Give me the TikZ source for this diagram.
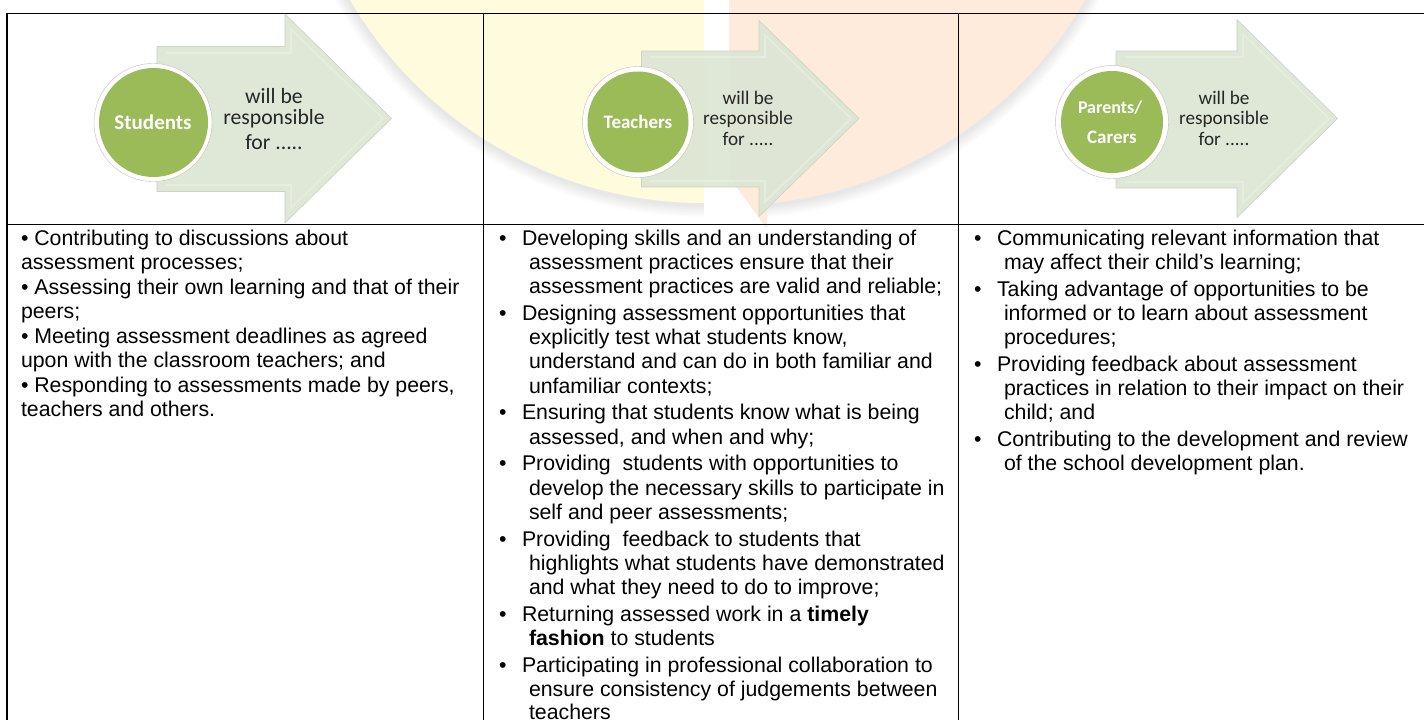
\documentclass[tikz,border=0pt]{standalone}
\usepackage{fontspec}
\setmainfont{Liberation Sans}
\newfontfamily\calibrif{Carlito}
\definecolor{wmyellow}{HTML}{FFFCDD}
\definecolor{wmorange}{HTML}{FEEBDB}
\definecolor{arrowfill}{HTML}{DDE5D4}
\definecolor{arrowedge}{HTML}{CBD3C3}
\definecolor{arrowbevel}{HTML}{E6EDDF}
\definecolor{ballgreen}{HTML}{9BBB59}
\tikzset{
  x=1pt,y=-1pt,
  rule/.style={draw=black,line width=1.4pt},
  celltext/.style={anchor=base west,inner sep=0pt,outer sep=0pt,font=\fontsize{21.3}{24.4}\selectfont,text=black},
  dot/.style={anchor=base west,inner sep=0pt,outer sep=0pt,font=\fontsize{21.3}{24.4}\selectfont,text=black},
  ballname/.style={inner sep=0pt,font=\calibrif\bfseries\fontsize{19}{23}\selectfont,text=white},
  sidetext/.style={inner sep=0pt,font=\calibrif\fontsize{19.2}{23}\selectfont,text=black!85},
  arrowbody/.style={fill=arrowfill,fill opacity=.92,draw=arrowedge,line width=.6pt,line join=miter},
  arrowinner/.style={draw=arrowbevel,line width=1.6pt,line join=miter},
  ballouter/.style={circle,fill=white,draw=black!25,line width=.4pt,inner sep=0pt},
  ballinner/.style={circle,fill=ballgreen,inner sep=0pt},
  softshadow/.style={draw=black,draw opacity=.012},
}
\begin{document}
\begin{tikzpicture}
\useasboundingbox (0,0) rectangle (1424,720);
\fill[white] (0,0) rectangle (1424,720);
% watermark
\begin{scope}
\clip (0,0) rectangle (704,720);
\foreach \w in {3,6,...,24} {\draw[softshadow,line width=\w pt] (704,-205) circle[radius=410];}
\fill[wmyellow] (704,-207) circle[radius=410];
\end{scope}
\begin{scope}
\clip (767,0) rectangle (1424,720);
\foreach \w in {3,6,...,24} {\draw[softshadow,line width=\w pt] (729,-205) circle[radius=412];}
\fill[wmorange] (729,-207) circle[radius=412];
\end{scope}
\fill[wmorange] (729,0) -- (729,177) -- (767,229) -- (767,0) -- cycle;
% rules
\draw[rule] (7,13.5) -- (1424,13.5);
\draw[rule] (7,224.5) -- (1424,224.5);
\draw[rule] (7,13) -- (7,720);
\draw[rule] (483.5,13) -- (483.5,720);
\draw[rule] (958.5,13) -- (958.5,720);
% arrow 1
\draw[arrowbody] (157,46.5) -- (285,46.5) -- (285,14) -- (391.5,118.5) -- (285,223) -- (285,191.5) -- (157,191.5) -- cycle;
\draw[arrowinner] (166,53) -- (291,53) -- (291,29) -- (383,118.5) -- (291,208) -- (291,185) -- (166,185);
\node[ballouter,minimum size=118pt] (ballA) at (153,122.5) {};
\node[ballinner,minimum size=109pt] (ballAi) at (153.5,122.5) {};
\node[ballname,font=\calibrif\bfseries\fontsize{21}{25}\selectfont] (nameA) at (153,122) {Students};
\node[sidetext,font=\calibrif\fontsize{21.7}{26}\selectfont] (sideA1) at (274,96) {will be};
\node[sidetext,font=\calibrif\fontsize{21.7}{26}\selectfont] (sideA2) at (274,119) {responsible};
\node[sidetext,font=\calibrif\fontsize{21.7}{26}\selectfont] (sideA3) at (274,142) {for .....};
% arrow 2
\draw[arrowbody] (641.5,51) -- (759,51) -- (759,20.5) -- (859,118.5) -- (759,216.5) -- (759,187) -- (641.5,187) -- cycle;
\draw[arrowinner] (650,57) -- (765,57) -- (765,35) -- (851,118.5) -- (765,202) -- (765,181) -- (650,181);
\node[ballouter,minimum size=111pt] (ballB) at (638,122) {};
\node[ballinner,minimum size=101pt] (ballBi) at (638,122) {};
\node[ballname] (nameB) at (638,122) {Teachers};
\node[sidetext] (sideB1) at (748,98) {will be};
\node[sidetext] (sideB2) at (748,119) {responsible};
\node[sidetext] (sideB3) at (748,139) {for .....};
% arrow 3
\draw[arrowbody] (1116,51) -- (1237,51) -- (1237,19.5) -- (1337.5,118.5) -- (1237,217.5) -- (1237,188) -- (1116,188) -- cycle;
\draw[arrowinner] (1125,57) -- (1243,57) -- (1243,34) -- (1329,118.5) -- (1243,203) -- (1243,182) -- (1125,182);
\node[ballouter,minimum size=113pt] (ballC) at (1112,122) {};
\node[ballinner,minimum size=102pt] (ballCi) at (1112,122) {};
\node[ballname,font=\calibrif\bfseries\fontsize{18}{22}\selectfont] (nameC1) at (1110,108) {Parents/};
\node[ballname] (nameC2) at (1112,137) {Carers};
\node[sidetext] (sideC1) at (1224,98) {will be};
\node[sidetext] (sideC2) at (1224,119) {responsible};
\node[sidetext] (sideC3) at (1224,139) {for .....};
% column 1
\node[celltext] (a1) at (21,245) {• Contributing to discussions about};
\node[celltext] (a2) at (21,269.5) {assessment processes;};
\node[celltext] (a3) at (21,294) {• Assessing their own learning and that of their};
\node[celltext] (a4) at (21,318.5) {peers;};
\node[celltext] (a5) at (21,343) {• Meeting assessment deadlines as agreed};
\node[celltext] (a6) at (21,367.5) {upon with the classroom teachers; and};
\node[celltext] (a7) at (21,392) {• Responding to assessments made by peers,};
\node[celltext] (a8) at (21,416.5) {teachers and others.};
% column 2
\node[dot] (bd1) at (499,245) {•};
\node[celltext] (b1) at (522,245) {Developing skills and an understanding of};
\node[celltext] (b2) at (529,269.3) {assessment practices ensure that their};
\node[celltext] (b3) at (529,293.6) {assessment practices are valid and reliable;};
\node[dot] (bd2) at (499,320.3) {•};
\node[celltext] (b4) at (522,320.3) {Designing assessment opportunities that};
\node[celltext] (b5) at (529,344.6) {explicitly test what students know,};
\node[celltext] (b6) at (529,368.9) {understand and can do in both familiar and};
\node[celltext] (b7) at (529,393.2) {unfamiliar contexts;};
\node[dot] (bd3) at (499,419.9) {•};
\node[celltext] (b8) at (522,419.9) {Ensuring that students know what is being};
\node[celltext] (b9) at (529,444.2) {assessed, and when and why;};
\node[dot] (bd4) at (499,470.9) {•};
\node[celltext] (b10) at (522,470.9) {Providing\ \ students with opportunities to};
\node[celltext] (b11) at (529,495.2) {develop the necessary skills to participate in};
\node[celltext] (b12) at (529,519.5) {self and peer assessments;};
\node[dot] (bd5) at (499,546.2) {•};
\node[celltext] (b13) at (522,546.2) {Providing\ \ feedback to students that};
\node[celltext] (b14) at (529,570.5) {highlights what students have demonstrated};
\node[celltext] (b15) at (529,594.8) {and what they need to do to improve;};
\node[dot] (bd6) at (499,621.5) {•};
\node[celltext] (b16) at (522,621.5) {Returning assessed work in a \textbf{timely}};
\node[celltext] (b17) at (529,645.8) {\textbf{fashion} to students};
\node[dot] (bd7) at (499,672.5) {•};
\node[celltext] (b18) at (522,672.5) {Participating in professional collaboration to};
\node[celltext] (b19) at (529,696.8) {ensure consistency of judgements between};
\node[celltext] (b20) at (529,719.5) {teachers};
% column 3
\node[dot] (cd1) at (974,245) {•};
\node[celltext] (c1) at (997,245) {Communicating relevant information that};
\node[celltext] (c2) at (1004,269.3) {may affect their child’s learning;};
\node[dot] (cd2) at (974,296) {•};
\node[celltext] (c3) at (997,296) {Taking advantage of opportunities to be};
\node[celltext] (c4) at (1004,320.3) {informed or to learn about assessment};
\node[celltext] (c5) at (1004,344.6) {procedures;};
\node[dot] (cd3) at (974,371.3) {•};
\node[celltext] (c6) at (997,371.3) {Providing feedback about assessment};
\node[celltext] (c7) at (1004,395.6) {practices in relation to their impact on their};
\node[celltext] (c8) at (1004,419.9) {child; and};
\node[dot] (cd4) at (974,446.6) {•};
\node[celltext] (c9) at (997,446.6) {Contributing to the development and review};
\node[celltext] (c10) at (1004,470.9) {of the school development plan.};
\end{tikzpicture}
\end{document}
